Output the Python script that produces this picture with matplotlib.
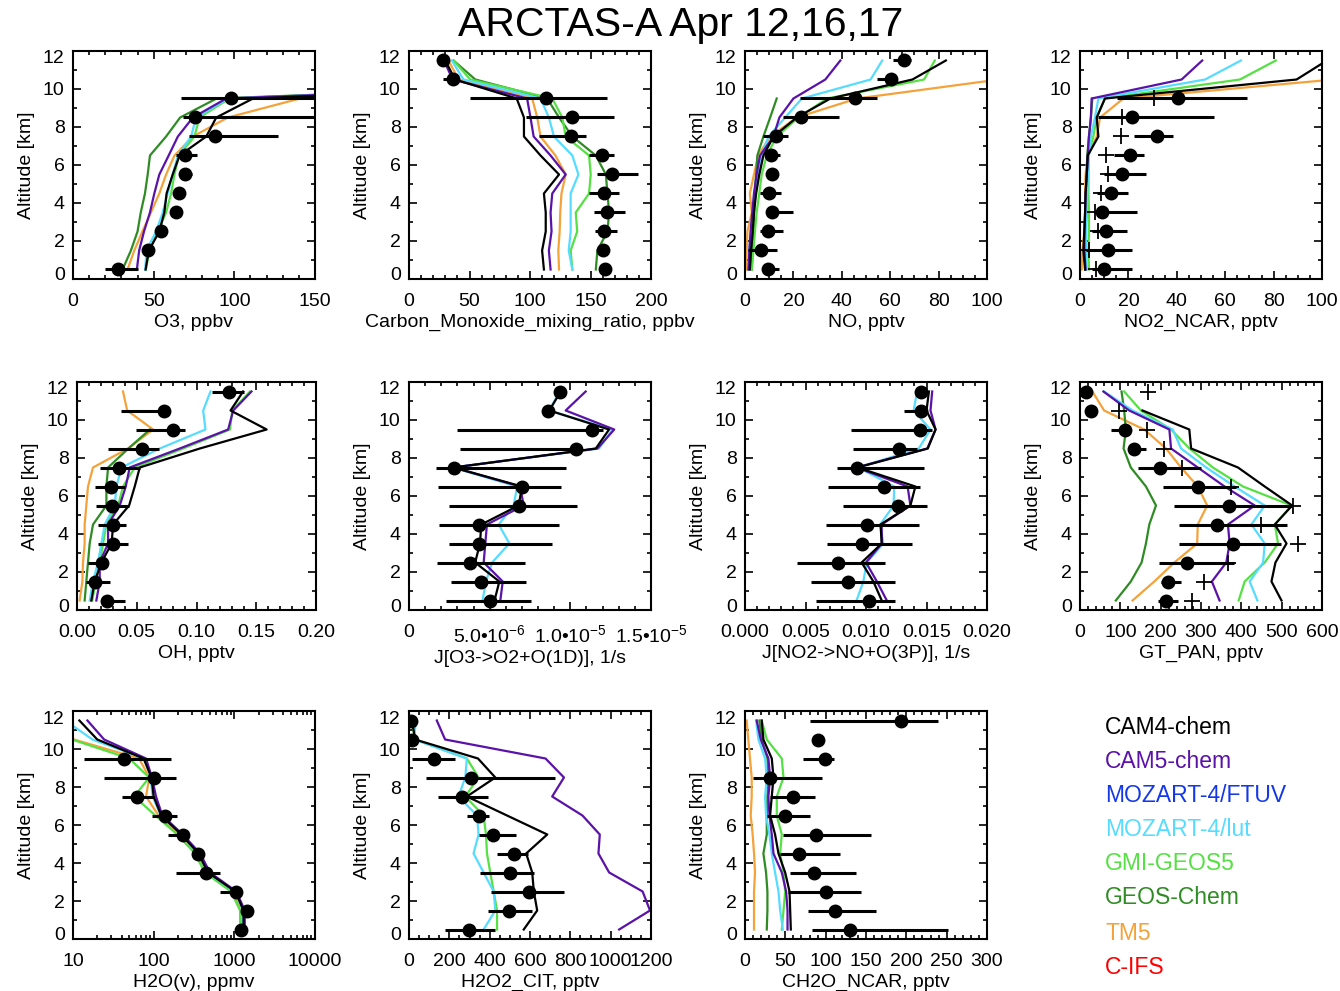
import numpy as np
import matplotlib
matplotlib.use('Agg')
import matplotlib.pyplot as plt
from matplotlib.ticker import AutoMinorLocator, NullFormatter
from matplotlib.transforms import ScaledTranslation

plt.rcParams['font.family'] = ['Liberation Sans', 'DejaVu Sans']
plt.rcParams['mathtext.fontset'] = 'custom'
plt.rcParams['mathtext.rm'] = 'Liberation Sans'
plt.rcParams['mathtext.it'] = 'Liberation Sans:italic'

nan = np.nan
LEV = np.arange(12) + 0.5

MODELS = ['CAM4-chem', 'CAM5-chem', 'MOZART-4/FTUV', 'MOZART-4/lut',
          'GMI-GEOS5', 'GEOS-Chem', 'TM5', 'C-IFS']
COLORS = ['#000000', '#5a12a8', '#1438e8', '#55dcff',
          '#55e043', '#2f8c24', '#f4a23a', '#ff0000']
DRAW_ORDER = ['TM5', 'GEOS-Chem', 'GMI-GEOS5', 'MOZART-4/lut', 'CAM5-chem', 'CAM4-chem']

# ---- O3, ppbv
o3_obs = [28, 46.7, 54.6, 63.7, 65.4, 69.3, 69.7, 87.8, 75.7, 97.7, nan, nan]
o3_lo = [20, nan, nan, 61, nan, 68, 64, 72, 68, 67, nan, nan]
o3_hi = [40, nan, nan, 66, nan, 74, 77, 127, 200, 200, nan, nan]
o3_mod = {
    'CAM4-chem': [45, 47, 53.5, 56.6, 58, 61.8, 66, 82.6, 88.8, 111.6, 400, 450],
    'CAM5-chem': [39.6, 41, 44, 47.7, 50.4, 53.5, 59.3, 65, 74.3, 95, 400, 450],
    'MOZART-4/lut': [44.8, 45.5, 51.5, 55.6, 58.7, 61.8, 65, 73.2, 76.3, 96, 400, 450],
    'GMI-GEOS5': [45.2, 47.3, 52.5, 57.7, 60.8, 62.9, 65.6, 75.3, 78.4, 97, 400, 450],
    'GEOS-Chem': [30.7, 35.9, 40, 42, 44.6, 46.3, 47.7, 57.7, 66.4, 89, 400, 450],
    'TM5': [33.8, 38, 43, 48.3, 53.5, 57.7, 62.9, 74.3, 96, 140.7, 400, 450],
}

# ---- CO, ppbv
co_obs = [162, 160.4, 161.3, 163.5, 161.3, 167.6, 159.3, 133.6, 135, 113.4, 36, 28.5]
co_lo = [nan, nan, 153.8, 153, 148.8, 155, 148.8, 107.3, 96.3, 50.6, 28.5, nan]
co_hi = [nan, nan, 171.5, 178.7, 173.2, 189, 169.6, 146.6, 169.6, 163.5, 39.6, nan]
co_mod = {
    'CAM4-chem': [111.5, 110, 113, 113, 111.5, 124, 108.7, 95, 95, 89, 38, 30],
    'CAM5-chem': [117, 115.6, 117.8, 117, 118.4, 129.5, 117, 103, 100.4, 97.6, 36, 29],
    'TM5': [124, 123.4, 124.5, 125, 126, 129.5, 121, 108.7, 106, 101.8, 41, 32.6],
    'MOZART-4/lut': [135, 132, 133.6, 133.6, 133.6, 140, 135, 119.8, 115.6, 108.7, 45, 35.4],
    'GMI-GEOS5': [135, 133.6, 139, 137.8, 148.8, 150.2, 148.8, 129.5, 126.7, 118.4, 50.6, 36.8],
    'GEOS-Chem': [154.4, 155.7, 164, 165.4, 164, 162.7, 154.4, 135, 124, 114.2, 54.8, 36.8],
}

# ---- NO, pptv
no_obs = [9.7, 6.5, 9.7, 11.3, 10, 11, 10.8, 12.9, 23.1, 45.6, 60.4, 65.7]
no_lo = [6.9, 1.4, 6, 9.7, 6.2, 9, 8.7, 7.6, 15.6, 22.8, 54.6, 61]
no_hi = [14.2, 13.1, 15.9, 20, 14.8, 13.8, 14.5, 17.6, 38.7, 54.6, 62.2, 68.5]
no_mod = {
    'CAM4-chem': [2, 2.5, 3.2, 3.7, 4.6, 5.9, 7.6, 11.8, 21.4, 35.3, 69.2, 83],
    'CAM5-chem': [1.4, 1.8, 2.3, 3.0, 3.7, 4.8, 6.2, 11.8, 14.2, 20, 33.2, 39.4],
    'MOZART-4/lut': [1.4, 1.8, 2.5, 3.2, 4.0, 5.2, 6.8, 9.7, 16.6, 23.5, 51.9, 56.7],
    'GMI-GEOS5': [2.8, 3.5, 4.1, 4.8, 5.9, 6.9, 9, 13.1, 22.1, 33.9, 74, 78.4],
    'GEOS-Chem': [2.8, 3.2, 3.5, 3.8, 4, 4.6, 5.1, 7.6, 10.4, 13.1, nan, nan],
    'TM5': [0.4, 0.7, 1, 2.8, 2, 3.7, 5.5, 10.4, 21.4, 46.3, 105, nan],
}

# ---- NO2_NCAR, pptv
no2_obs = [9.9, 11.4, 10.6, 9, 12.7, 17.5, 20.7, 31.7, 21.3, 40.4, nan, nan]
no2_lo = [5.1, 2.3, 4.8, 5.9, 6.9, 10, 14.2, 22.5, 7.6, 15.2, nan, nan]
no2_hi = [21.6, 21.6, 19.6, 23.4, 20, 27.1, 26.6, 38.6, 55.4, 68.9, nan, nan]
no2_plus = [6.5, 3.7, 7.6, 6.2, 8.7, 11.7, 10.6, 16.9, 17.5, 30.7, nan, nan]
no2_mod = {
    'CAM4-chem': [2.1, 1.4, 1.8, 2.1, 2.3, 2.8, 3.2, 7.6, 6.9, 10.3, 89.5, 102],
    'CAM5-chem': [2.3, 1.8, 1.8, 2.1, 2.3, 2.8, 3.2, 3.7, 4.5, 4.8, 42, 50.5],
    'MOZART-4/lut': [2.8, 2.5, 2.5, 2.8, 3, 3.3, 3.7, 4.5, 6.2, 7.6, 51.7, 66.5],
    'GMI-GEOS5': [3.7, 3.5, 3.7, 3.7, 3.5, 3.5, 3.5, 5.5, 6.9, 10.3, 66.1, 80.9],
    'GEOS-Chem': [2.1, 2.1, 2.3, 2.5, 2.5, 2.8, 3, 3.7, 4.5, 5.1, nan, nan],
    'TM5': [0.7, 1, 1.8, 3.2, 2.1, 2.3, 3.2, 6.9, 8.3, 17.9, 105, nan],
}

# ---- OH, pptv
oh_obs = [0.0251, 0.0148, 0.021, 0.0302, 0.0302, 0.0296, 0.0288, 0.0349, 0.0547, 0.0804, 0.0726, 0.1274]
oh_lo = [0.0218, 0.0078, 0.0092, 0.0176, 0.0176, 0.0156, 0.0148, 0.0196, 0.026, 0.049, 0.037, 0.113]
oh_hi = [0.0405, 0.028, 0.024, 0.0427, 0.0413, 0.0436, 0.040, 0.0525, 0.0687, 0.090, 0.0726, 0.140]
oh_mod = {
    'CAM4-chem': [0.012, 0.0148, 0.0204, 0.029, 0.0302, 0.0436, 0.0483, 0.0525, 0.1028, 0.1587, 0.1285, 0.139],
    'CAM5-chem': [0.0162, 0.019, 0.019, 0.026, 0.026, 0.0358, 0.0408, 0.0441, 0.086, 0.1265, 0.1307, 0.146],
    'MOZART-4/lut': [0.0106, 0.0134, 0.0176, 0.0204, 0.0232, 0.0316, 0.033, 0.0372, 0.0693, 0.1075, 0.1056, 0.1117],
    'GMI-GEOS5': [0.0128, 0.0156, 0.019, 0.0218, 0.0246, 0.0344, 0.0385, 0.0483, 0.0888, 0.128, 0.130, 0.1447],
    'GEOS-Chem': [0.0064, 0.0078, 0.0092, 0.0106, 0.0134, 0.0246, 0.0246, 0.026, 0.043, 0.061, nan, nan],
    'TM5': [0.0022, 0.0045, 0.005, 0.0064, 0.0064, 0.0078, 0.0092, 0.0134, 0.0427, 0.0637, 0.042, 0.0385],
}

# ---- J[O3->O2+O(1D)], 1e-6 1/s
jo1d_obs = [5.04, 4.48, 3.8, 4.32, 4.32, 6.8, 7.01, 2.76, 10.37, 11.33, 8.61, 9.36]
jo1d_lo = [2.28, 2.61, 1.72, 2.49, 1.83, 2.49, 1.78, 1.66, 3.17, 2.97, nan, nan]
jo1d_hi = [7.59, 7.26, 7.18, 8.84, 9.29, 10.44, 9.4, 9.75, 10.4, 12.03, nan, nan]
jo1d_mod = {
    'CAM4-chem': [5.3, 5.6, 4.1, 4.4, 4.48, 6.8, 7.0, 2.76, 11.58, 12.4, 8.7, 9.4],
    'CAM5-chem': [5.66, 5.81, 4.63, 4.73, 4.83, 7.1, 6.9, 2.76, 11.68, 12.72, 9.71, 10.95],
    'MOZART-4/lut': [4.56, 4.77, 5.15, 6.22, 5.56, 6.49, 6.7, 2.7, 11.78, 12.61, 8.67, 9.36],
}

# ---- J[NO2->NO+O(3P)], 1e-3 1/s
jno2_obs = [10.28, 8.53, 7.7, 9.64, 10.06, 12.64, 11.5, 9.22, 12.7, 14.44, 14.56, 14.56]
jno2_lo = [5.83, 5.47, 4.28, 6.78, 6.72, 8.06, 6.86, 7.6, 8.9, 8.8, 13.1, nan]
jno2_hi = [12.36, 12.36, 11.58, 13.8, 14.36, 15.06, 14.44, 14.8, 14.2, 15.47, 14.8, nan]
jno2_mod = {
    'CAM4-chem': [11.3, 10.61, 9.64, 11.3, 11.2, 13.67, 14.08, 9.3, 15.11, 15.75, 15.0, 15.2],
    'CAM5-chem': [11.72, 10.9, 10.0, 11.3, 11.3, 13.67, 13.44, 9.22, 15.06, 15.75, 15.33, 15.47],
    'MOZART-4/lut': [9.22, 9.78, 10.06, 11.44, 11.17, 12.28, 12.33, 9.36, 14.36, 15.33, 13.94, 14.22],
}

# ---- GT_PAN, pptv
pan_obs = [213.3, 219.1, 265.6, 379.3, 340.2, 368.5, 293.8, 199.2, 132.8, 111.2, 28.2, 14.1]
pan_lo = [192.5, 200.8, 196.7, 246.5, 246.5, 232.4, 205, 144.4, 126, 76, nan, nan]
pan_hi = [242.3, 250.6, 381.7, 498, 512, 526, 387.6, 298.8, 163.5, 122, nan, nan]
pan_plus = [278, 307, 366.8, 541, 448, 528.6, 375, 252.3, 209, 166, 97, 167.6]
pan_mod = {
    'CAM4-chem': [499.6, 474.7, 484.6, 512, 483, 526, 458, 391.7, 275.5, 271, 155, nan],
    'CAM5-chem': [346, 327, 362.7, 371, 366.8, 433.2, 358.5, 292, 225.7, 221.6, 122, 58],
    'MOZART-4/lut': [439.8, 420.7, 454, 458, 425, 458, 383.4, 312.9, 250.6, 229.9, 130.3, 59.8],
    'GMI-GEOS5': [393.4, 408.3, 458, 491, 483, 524.5, 404, 329.5, 271.4, 225.7, 151, 109.5],
    'GEOS-Chem': [88.8, 126, 152.7, 163.5, 171.8, 188.4, 163.5, 126, 108, 113.7, 109.5, 103],
    'TM5': [130.3, 184.2, 234, 290.5, 292, 315.4, 292, 250.6, 213.3, 159.3, 59.8, 30.7],
}

# ---- H2O(v), ppmv
h2o_obs = [1200, 1440, 1059, 448, 353, 229.6, 139.5, 61.4, 100, 43.1, nan, nan]
h2o_lo = [nan, nan, 670, 189.7, nan, 149.5, 95.3, 40.4, 23.9, 13.7, nan, nan]
h2o_hi = [nan, nan, 1160, 658, nan, 278, 193, 101.9, 189.7, 164.4, nan, nan]
h2o_mod = {
    'CAM4-chem': [1300, 1300, 1030, 470, 360, 220, 124, 100, 94, 75, 20, 12],
    'CAM5-chem': [1346, 1346, 1059, 498, 377, 229.6, 128, 106.9, 95, 80.4, 24.3, 15.1],
    'MOZART-4/lut': [1280, 1280, 1010, 463, 356, 218, 122, 97, 92, 76.6, 17.4, 8],
    'GMI-GEOS5': [1180, 1180, 910, 430, 325, 196, 105, 57.5, 88, 49.8, 9.7, 4],
    'TM5': [1230, 1230, 960, 448, 340, 207, 115, 80.4, 88.3, 66, 10.3, 6],
}

# ---- H2O2_CIT, pptv
h2o2_obs = [298.8, 498, 597.5, 503, 519.5, 415, 348.5, 262, 308.7, 126, 16.6, 10]
h2o2_lo = [179, 391.7, 408, 353.5, 436.5, 345, 287, 142.7, 83, 13.3, nan, nan]
h2o2_hi = [425, 607.5, 768.5, 619, 591, 531, 398, 391.7, 723.7, 225.7, nan, nan]
h2o2_mod = {
    'CAM4-chem': [569, 635.7, 619, 611, 581, 685.5, 486, 287, 428, 342, 30, 15],
    'CAM5-chem': [1042, 1195, 1158.5, 992.5, 939.4, 946, 860, 710, 768.5, 677, 179, 137.8],
    'MOZART-4/lut': [370, 428, 420, 370, 320, 345, 337, 245.6, 279, 287, 26.6, 33],
    'GMI-GEOS5': [436.5, 436.5, 420, 403, 386.7, 381.7, 370, 279, 345, 287, 30, 13],
}

# ---- CH2O_NCAR, pptv
ch2o_obs = [129.9, 112, 100.4, 85.9, 66.4, 88.4, 49.8, 59.3, 31.1, 99.6, 90, 193]
ch2o_lo = [83, 77.6, 52.7, 56, 43.6, 46.9, 27, 31, 9.5, 71.8, nan, 81]
ch2o_hi = [251.9, 163, 143.2, 137, 118.3, 156.4, 81, 87, 95.4, 110.8, nan, 239.4]
ch2o_mod = {
    'CAM4-chem': [56.8, 56, 55.2, 49.8, 41.5, 37.3, 31.1, 33.2, 35.3, 33.2, 22.8, 20.7],
    'CAM5-chem': [52.7, 52.7, 51, 45.6, 35.3, 33.2, 30.3, 29, 31.1, 29, 19.5, 14.5],
    'MOZART-4/lut': [46.9, 43.6, 41.5, 37.3, 33.2, 30.3, 26.1, 24.9, 27, 24.9, 16.6, 13.7],
    'GMI-GEOS5': [45.6, 47.7, 49.8, 47.7, 43.6, 45.6, 39.4, 39.4, 47.7, 45.6, 27, 20.7],
    'GEOS-Chem': [27, 27.8, 27.8, 26.1, 22.8, 27, 27, 27.8, 29, 27.8, 20.7, 17.8],
    'TM5': [11.2, 11.2, 11.2, 12.4, 11.2, 9.5, 7.1, 8.3, 8.3, 6.2, 4.1, 2.1],
}

W, H = 1340, 991
fig = plt.figure(figsize=(W / 100, H / 100), dpi=100)

FS = 14
axes = []


def rect(l, t, w=242, h=228):
    return [l / W, 1 - (t + h) / H, w / W, h / H]


def panel(ax, obs, lo, hi, mods, xlabel, plus=None, scale=1.0):
    col = dict(zip(MODELS, COLORS))
    for name in DRAW_ORDER:
        if name in mods:
            ax.plot(np.array(mods[name]) * scale, LEV, color=col[name], lw=1.6)
    ax.hlines(LEV, np.array(lo) * scale, np.array(hi) * scale, color='k', lw=2.2)
    ax.plot(np.array(obs) * scale, LEV, 'o', color='k', ms=9)
    if plus is not None:
        ax.plot(np.array(plus) * scale, LEV, '+', color='k', ms=11, mew=1.3)
    ax.set_ylim(0, 12)
    ax.set_yticks(np.arange(0, 13, 2))
    ax.yaxis.set_minor_locator(AutoMinorLocator(2))
    ax.set_ylabel('Altitude [km]', fontsize=FS, labelpad=6)
    ax.set_xlabel(xlabel, fontsize=FS, labelpad=3)
    ax.tick_params(which='both', direction='in', top=True, right=True, labelsize=FS, width=1.2)
    ax.tick_params(which='major', length=6)
    ax.tick_params(axis='x', which='major', pad=10)
    ax.tick_params(axis='y', which='major', pad=6)
    ax.tick_params(which='minor', length=3)
    for s in ax.spines.values():
        s.set_linewidth(1.5)
    axes.append(ax)


cols = [73, 409, 745, 1080]
rows = [51, 382, 711]

ax = fig.add_axes(rect(cols[0], rows[0]))
panel(ax, o3_obs, o3_lo, o3_hi, o3_mod, 'O3, ppbv')
ax.set_xlim(0, 150); ax.set_xticks([0, 50, 100, 150]); ax.xaxis.set_minor_locator(AutoMinorLocator(5))

ax = fig.add_axes(rect(cols[1], rows[0]))
panel(ax, co_obs, co_lo, co_hi, co_mod, 'Carbon_Monoxide_mixing_ratio, ppbv')
ax.set_xlim(0, 200); ax.set_xticks([0, 50, 100, 150, 200]); ax.xaxis.set_minor_locator(AutoMinorLocator(5))

ax = fig.add_axes(rect(cols[2], rows[0]))
panel(ax, no_obs, no_lo, no_hi, no_mod, 'NO, pptv')
ax.set_xlim(0, 100); ax.set_xticks(np.arange(0, 101, 20)); ax.xaxis.set_minor_locator(AutoMinorLocator(4))

ax = fig.add_axes(rect(cols[3], rows[0]))
panel(ax, no2_obs, no2_lo, no2_hi, no2_mod, 'NO2_NCAR, pptv', plus=no2_plus)
ax.set_xlim(0, 100); ax.set_xticks(np.arange(0, 101, 20)); ax.xaxis.set_minor_locator(AutoMinorLocator(4))

ax = fig.add_axes(rect(77, rows[1], w=239))
panel(ax, oh_obs, oh_lo, oh_hi, oh_mod, 'OH, pptv')
ax.set_xlim(0, 0.2); ax.set_xticks(np.arange(0, 0.201, 0.05))
ax.set_xticklabels(['%.2f' % v for v in np.arange(0, 0.201, 0.05)])
ax.xaxis.set_minor_locator(AutoMinorLocator(5))

ax = fig.add_axes(rect(cols[1], rows[1]))
panel(ax, jo1d_obs, jo1d_lo, jo1d_hi, jo1d_mod, 'J[O3->O2+O(1D)], 1/s', scale=1e-6)
ax.set_xlim(0, 1.5e-5)
ax.set_xticks([0, 5e-6, 1e-5, 1.5e-5])
ax.set_xticklabels(['0', '5.0•10$^{-6}$', '1.0•10$^{-5}$', '1.5•10$^{-5}$'])
ax.xaxis.set_minor_locator(AutoMinorLocator(5))

ax = fig.add_axes(rect(cols[2], rows[1]))
panel(ax, jno2_obs, jno2_lo, jno2_hi, jno2_mod, 'J[NO2->NO+O(3P)], 1/s', scale=1e-3)
ax.set_xlim(0, 0.02); ax.set_xticks(np.arange(0, 0.0201, 0.005))
ax.set_xticklabels(['%.3f' % v for v in np.arange(0, 0.0201, 0.005)])
ax.xaxis.set_minor_locator(AutoMinorLocator(5))

ax = fig.add_axes(rect(cols[3], rows[1]))
panel(ax, pan_obs, pan_lo, pan_hi, pan_mod, 'GT_PAN, pptv', plus=pan_plus)
ax.set_xlim(0, 600); ax.set_xticks(np.arange(0, 601, 100)); ax.xaxis.set_minor_locator(AutoMinorLocator(5))

ax = fig.add_axes(rect(cols[0], rows[2]))
panel(ax, h2o_obs, h2o_lo, h2o_hi, h2o_mod, 'H2O(v), ppmv')
ax.set_xscale('log')
ax.set_xlim(10, 10000)
ax.set_xticks([10, 100, 1000, 10000])
ax.set_xticklabels(['10', '100', '1000', '10000'])
ax.xaxis.set_minor_formatter(NullFormatter())

ax = fig.add_axes(rect(cols[1], rows[2]))
panel(ax, h2o2_obs, h2o2_lo, h2o2_hi, h2o2_mod, 'H2O2_CIT, pptv')
ax.set_xlim(0, 1200); ax.set_xticks(np.arange(0, 1201, 200)); ax.xaxis.set_minor_locator(AutoMinorLocator(4))

ax = fig.add_axes(rect(cols[2], rows[2]))
panel(ax, ch2o_obs, ch2o_lo, ch2o_hi, ch2o_mod, 'CH2O_NCAR, pptv')
ax.set_xlim(0, 300); ax.set_xticks(np.arange(0, 301, 50)); ax.xaxis.set_minor_locator(AutoMinorLocator(5))

# IDL-style: end labels of the altitude axis sit just inside the box
for ax in axes:
    labs = ax.get_yticklabels()
    labs[0].set_transform(labs[0].get_transform() + ScaledTranslation(0, 5 / 100, fig.dpi_scale_trans))
    labs[-1].set_transform(labs[-1].get_transform() + ScaledTranslation(0, -6 / 100, fig.dpi_scale_trans))

fig.text(681 / W, 1 - 25 / H, 'ARCTAS-A Apr 12,16,17', ha='center', va='center', fontsize=29.5)

leg_y = [727, 761, 795, 830, 864, 898, 933, 967]
for name, c, y in zip(MODELS, COLORS, leg_y):
    fig.text(1105 / W, 1 - y / H, name, color=c, fontsize=16.5, ha='left', va='center')

fig.savefig('out.png', dpi=100)
